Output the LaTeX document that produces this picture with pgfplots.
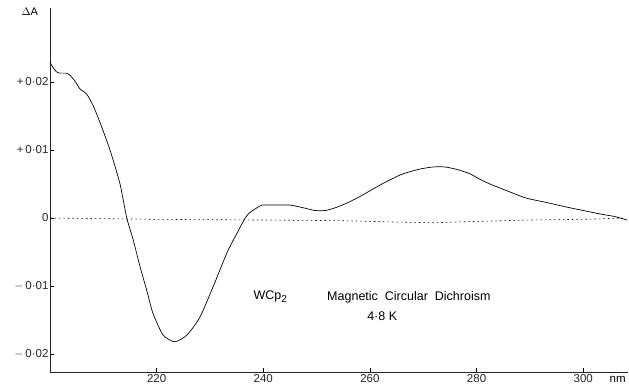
\documentclass[border=0pt]{standalone}
\usepackage{fontspec}
\setmainfont{Liberation Sans}
\usepackage{pgfplots}
\pgfplotsset{compat=1.18}
\begin{document}
\begin{tikzpicture}
\path[use as bounding box] (-50pt,-14pt) rectangle (579pt,372pt);
\begin{axis}[
  at={(0,0)}, anchor=south west,
  scale only axis, width=578pt, height=364pt,
  xmin=200, xmax=308.4, ymin=-0.02265, ymax=0.03088,
  scaled y ticks=false,
  axis x line*=bottom, axis y line*=left,
  axis line style={-, line width=0.6pt, black!85},
  tick style={black, line width=0.6pt},
  tick align=inside, major tick length=4pt,
  xtick={220,240,260,280,300},
  xticklabels={220,240,260,280,300},
  ytick={-0.02,-0.01,0,0.01,0.02},
  yticklabels={{$-$\,0·02},{$-$\,0·01},0,{+\,0·01},{+\,0·02}},
  ticklabel style={font=\fontsize{11.5}{13}\selectfont, black!85},
  xticklabel style={yshift=1pt},
  yticklabel style={xshift=2pt},
  clip=false,
]
\addplot[black, line width=0.7pt, smooth, tension=0.4] coordinates {
(200,0.0229) (200.5,0.0222) (201.2,0.0215) (201.9,0.0213) (203.0,0.0213) (203.75,0.0210)
(204.8,0.0200) (205.6,0.0190) (206.9,0.0182) (208.1,0.0165) (209.4,0.0140)
(211.25,0.0100) (213.1,0.0051) (214.4,0.0000) (215.6,-0.0032) (216.9,-0.0072)
(218.2,-0.0108) (219.3,-0.0140) (221.2,-0.0172) (223.4,-0.0182) (225.7,-0.0172)
(228.1,-0.0146) (230.6,-0.0101) (233.2,-0.0051) (235.1,-0.0022) (236.6,0.0000)
(237.5,0.0008) (239.0,0.0016) (239.75,0.0019) (242.0,0.0019) (245,0.0019)
(247.5,0.0015) (249.7,0.0011) (251.6,0.0011) (253.5,0.0015) (255.7,0.0022)
(258.0,0.0031) (260,0.0040) (262.5,0.0051) (265.6,0.0063) (267.5,0.0068)
(269.4,0.0072) (271.8,0.0075) (274.1,0.0075) (276.5,0.0071) (278.75,0.0065)
(280.6,0.0057) (282.5,0.0050) (284.4,0.0044) (287,0.0036) (289.4,0.0029)
(293,0.0023) (296.9,0.0016) (300,0.0011) (303.1,0.0006) (306,0.0002) (308.2,-0.0003)
};
\addplot[black, line width=0.6pt, dash pattern=on 1.5pt off 3pt] coordinates {
(200,0.0000) (220,-0.0002) (240,-0.0003) (255,-0.0004) (265,-0.0006)
(272,-0.0007) (280,-0.0005) (290,-0.0003) (300,-0.0002) (308,0.0000)
};
\node[font=\fontsize{11}{13}\selectfont] at (axis cs:196.2,0.0303) {$\Delta$A};
\node[font=\fontsize{11.5}{13}\selectfont, anchor=north west] at (axis cs:304.3,-0.02265) [yshift=-1pt] {nm};
\node[font=\fontsize{12.5}{14}\selectfont] at (axis cs:241.3,-0.0116) {WCp\raisebox{-0.45ex}{\fontsize{10}{12}\selectfont 2}};
\node[font=\fontsize{12.5}{14}\selectfont] at (axis cs:267.3,-0.0116) {Magnetic\ \ Circular\ \ Dichroism};
\node[font=\fontsize{12.5}{14}\selectfont] at (axis cs:262.3,-0.0144) {4·8 K};
\end{axis}
\end{tikzpicture}
\end{document}
